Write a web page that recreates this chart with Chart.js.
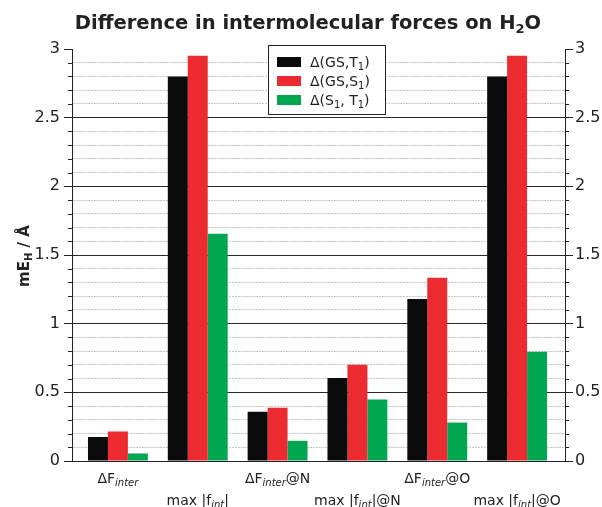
<!DOCTYPE html>
<html>
<head>
<meta charset="utf-8">
<script src="https://cdn.jsdelivr.net/npm/chart.js@4.4.0/dist/chart.umd.min.js"></script>
<style>
    html, body { margin: 0; padding: 0; background: #fff; }
    canvas { display: block; }
</style>
</head>
<body>
<canvas id="forcesChart" width="602" height="507"></canvas>
<script>
// categories use _{...} for subscripts
const categories = ['ΔF_{inter}', 'max |f_{int}|', 'ΔF_{inter}@N', 'max |f_{int}|@N', 'ΔF_{inter}@O', 'max |f_{int}|@O'];
const seriesNames = ['Δ(GS,T_{1})', 'Δ(GS,S_{1})', 'Δ(S_{1}, T_{1})'];
const gsT1 = [0.175, 2.80, 0.358, 0.605, 1.18, 2.80];
const gsS1 = [0.215, 2.95, 0.387, 0.70, 1.335, 2.95];
const s1T1 = [0.055, 1.655, 0.147, 0.447, 0.28, 0.795];
const seriesColors = ['#0b0b0b', '#ec2b30', '#00a650'];
const yMin = 0;
const yMax = 3;
const majorStep = 0.5;
const minorStep = 0.1;

const FONT = '"DejaVu Sans", Verdana, sans-serif';

function isMajor(v) {
    return Math.abs(v / majorStep - Math.round(v / majorStep)) < 1e-6;
}

function parseRich(str) {
    const bits = str.split(/_\{([^}]*)\}/);
    return bits.map((t, i) => ({text: t, sub: i % 2 === 1})).filter(p => p.text !== '');
}

// draws text with subscripts; align 'center' or 'left'
function drawRich(ctx, str, x, y, opt) {
    const parts = parseRich(str);
    const mainFont = (opt.weight || '') + ' ' + opt.size + 'px ' + FONT;
    const subFont = (opt.subStyle || '') + ' ' + opt.subSize + 'px ' + FONT;
    let total = 0;
    parts.forEach(p => {
        ctx.font = p.sub ? subFont : mainFont;
        p.w = ctx.measureText(p.text).width;
        total += p.w;
    });
    let cx = opt.align === 'left' ? x : x - total / 2;
    ctx.textBaseline = 'alphabetic';
    ctx.textAlign = 'left';
    ctx.fillStyle = opt.color || '#222';
    parts.forEach(p => {
        ctx.font = p.sub ? subFont : mainFont;
        ctx.fillText(p.text, cx, p.sub ? y + opt.subShift : y);
        cx += p.w;
    });
}

const decorations = {
    id: 'decorations',
    afterDraw(chart) {
        const ctx = chart.ctx;
        const xs = chart.scales.x;
        const yl = chart.scales.y;
        const yr = chart.scales.y2;
        ctx.save();

        // short minor ticks on both vertical axes
        ctx.strokeStyle = '#222';
        ctx.lineWidth = 1;
        yl.ticks.forEach(t => {
            if (isMajor(t.value)) return;
            const py = Math.round(yl.getPixelForValue(t.value)) + 0.5;
            ctx.beginPath();
            ctx.moveTo(yl.right - 4, py);
            ctx.lineTo(yl.right, py);
            ctx.moveTo(yr.left, py);
            ctx.lineTo(yr.left + 4, py);
            ctx.stroke();
        });

        // category labels, staggered in two rows
        categories.forEach((c, i) => {
            const px = xs.getPixelForValue(i);
            const py = i % 2 === 0 ? 483 : 505;
            drawRich(ctx, c, px, py, {size: 14, subSize: 10, subStyle: 'italic', subShift: 3});
        });

        // title
        drawRich(ctx, 'Difference in intermolecular forces on H_{2}O', 308, 29,
            {size: 19.5, weight: 'bold', subSize: 13, subStyle: 'bold', subShift: 4});

        // y axis title
        ctx.save();
        ctx.translate(29, 256);
        ctx.rotate(-Math.PI / 2);
        drawRich(ctx, 'mE_{H} / Å', 0, 0, {size: 15, weight: 'bold', subSize: 10, subStyle: 'bold', subShift: 3});
        ctx.restore();

        // legend box
        const bx = 268, by = 45, bw = 117, bh = 69;
        ctx.fillStyle = '#fff';
        ctx.fillRect(bx, by, bw, bh);
        ctx.strokeStyle = '#222';
        ctx.strokeRect(bx + 0.5, by + 0.5, bw, bh);
        chart.data.datasets.forEach((ds, i) => {
            const ry = by + 17 + i * 19;
            ctx.fillStyle = ds.backgroundColor;
            ctx.fillRect(bx + 9, ry - 5, 24, 10);
            drawRich(ctx, ds.label, bx + 42, ry + 5, {size: 14, subSize: 10, subShift: 3, align: 'left'});
        });
        ctx.restore();
    }
};

const ctx = document.getElementById('forcesChart').getContext('2d');
const chart = new Chart(ctx, {
    type: 'bar',
    data: {
        datasets: [gsT1, gsS1, s1T1].map((vals, i) => ({
            label: seriesNames[i],
            data: vals.map((v, k) => ({x: k, y: v})),
            backgroundColor: seriesColors[i],
            borderWidth: 0,
            categoryPercentage: 0.75,
            barPercentage: 1.0
        }))
    },
    options: {
        responsive: false,
        animation: false,
        layout: {padding: {left: 0, right: 0, top: 49, bottom: 0}},
        plugins: {
            legend: {display: false},
            title: {display: false},
            tooltip: {enabled: false}
        },
        scales: {
            x: {
                type: 'linear',
                offset: false,
                min: -0.575,
                max: 5.6,
                ticks: {display: false},
                grid: {display: false, offset: false},
                border: {display: true, color: '#222', width: 1},
                // one tick per category so bar widths follow category spacing
                afterBuildTicks(scale) { scale.ticks = categories.map((c, i) => ({value: i})); },
                afterFit(scale) { scale.height = 46; }
            },
            y: {
                position: 'left',
                min: yMin,
                max: yMax,
                ticks: {
                    stepSize: minorStep,
                    autoSkip: false,
                    padding: 4,
                    color: '#222',
                    font: {family: FONT, size: 16},
                    callback: v => isMajor(v) ? String(+v.toFixed(1)) : ''
                },
                grid: {
                    color: c => (c.tick && !isMajor(c.tick.value)) ? '#c6c6c6' : 'rgba(0,0,0,0)',
                    tickColor: c => (c.tick && isMajor(c.tick.value)) ? '#222' : 'rgba(0,0,0,0)',
                    tickLength: 8
                },
                border: {display: true, color: '#222', width: 1, dash: [2, 1]},
                afterFit(scale) { scale.width = 72; }
            },
            y2: {
                position: 'right',
                min: yMin,
                max: yMax,
                ticks: {
                    stepSize: majorStep,
                    autoSkip: false,
                    padding: 2,
                    color: '#222',
                    font: {family: FONT, size: 16},
                    callback: v => String(+v.toFixed(1))
                },
                grid: {
                    drawOnChartArea: true,
                    color: c => (c.tick && c.tick.value > 0 && c.tick.value < yMax) ? '#2a2a2a' : 'rgba(0,0,0,0)',
                    tickColor: '#222',
                    tickLength: 8
                },
                border: {display: true, color: '#222', width: 1},
                afterFit(scale) { scale.width = 37; }
            }
        }
    },
    plugins: [decorations]
});
</script>
</body>
</html>
